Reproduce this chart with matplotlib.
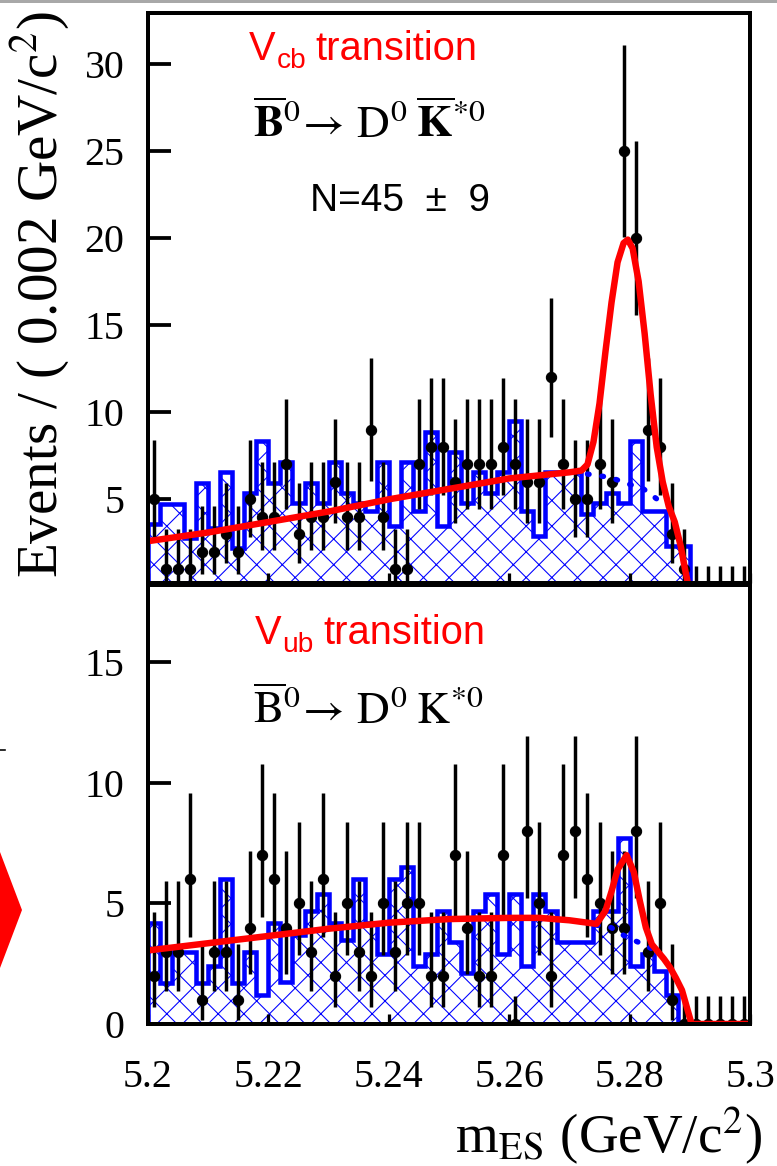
import numpy as np
import matplotlib
matplotlib.use("Agg")
import matplotlib.pyplot as plt
from matplotlib.patches import Polygon, Rectangle
from math import exp, log

# ---------------- data ----------------
x_lo, x_hi, n_bins = 5.2, 5.3, 50

top_counts = [5, 1, 1, 1, 2, 2, 3, 2, 5, 4,
              4, 7, 3, 4, 4, 6, 4, 4, 9, 4,
              1, 1, 7, 8, 8, 6, 7, 7, 7, 8,
              7, 6, 6, 12, 7, 5, 5, 7, 6, 25,
              20, 9, 8, 3, 1, 0, 0, 0, 0, 0]
top_hist = [3.56, 4.75, 4.75, 2.79, 5.96, 3.37, 6.54, 2.21, 5.38, 8.37,
            5.96, 7.12, 4.81, 5.96, 4.81, 7.12, 5.38, 4.81, 4.33, 7.12,
            3.46, 7.12, 4.33, 8.85, 3.46, 7.69, 4.81, 6.54, 5.38, 6.54,
            9.52, 4.33, 2.88, 6.54, 6.54, 6.54, 4.13, 4.81, 5.38, 4.81,
            8.37, 4.33, 4.33, 2.31, 2.31, 0, 0, 0, 0, 0]
top_fit_x = [5.200, 5.210, 5.220, 5.230, 5.240, 5.250, 5.260, 5.2700, 5.2720,
             5.2730, 5.2740, 5.2750, 5.2760, 5.2770, 5.2780, 5.2790, 5.2797,
             5.2805, 5.2815, 5.2825, 5.2835, 5.2845, 5.2855, 5.2865, 5.2875,
             5.2885, 5.2892, 5.2898, 5.300]
top_fit_y = [2.6, 3.1, 3.7, 4.3, 5.0, 5.6, 6.2, 6.55, 6.65,
             7.0, 8.3, 10.5, 13.5, 16.3, 18.6, 19.7, 19.9,
             19.4, 17.5, 14.5, 11.0, 8.0, 6.0, 4.6, 3.7,
             2.3, 1.0, 0.0, 0.0]
top_bkg_x = [5.2730, 5.2769, 5.2792, 5.2823, 5.2846]
top_bkg_y = [6.45, 6.25, 5.95, 5.6, 5.0]

bot_counts = [2, 3, 3, 6, 1, 3, 3, 1, 4, 7,
              6, 4, 5, 3, 6, 2, 5, 3, 2, 5,
              3, 5, 5, 2, 2, 7, 4, 2, 2, 7,
              0, 8, 5, 2, 7, 8, 6, 5, 4, 4,
              8, 3, 5, 1, 0, 0, 0, 0, 0, 0]
bot_hist = [4.2, 1.7, 3.0, 3.0, 1.7, 2.4, 6.0, 1.7, 3.0, 1.2,
            4.2, 1.75, 3.7, 4.7, 5.4, 4.2, 3.5, 6.0, 4.2, 2.9,
            6.0, 6.5, 2.4, 2.9, 4.7, 3.4, 2.1, 4.7, 5.4, 2.9,
            5.4, 2.4, 5.4, 4.7, 3.4, 3.4, 3.4, 4.7, 4.7, 7.7,
            2.4, 2.9, 2.2, 1.2, 0, 0, 0, 0, 0, 0]
bot_fit_x = [5.200, 5.210, 5.220, 5.230, 5.240, 5.250, 5.260, 5.265, 5.270,
             5.2745, 5.276, 5.277, 5.278, 5.2795, 5.2807, 5.2817, 5.2827,
             5.2837, 5.2847, 5.2857, 5.2867, 5.2877, 5.2887, 5.2895, 5.2903,
             5.300]
bot_fit_y = [3.05, 3.35, 3.65, 3.95, 4.2, 4.35, 4.4, 4.4, 4.3,
             4.15, 4.7, 5.5, 6.4, 7.0, 6.3, 5.1, 4.0,
             3.3, 3.0, 2.7, 2.35, 1.9, 1.4, 0.7, 0.0,
             0.0]
bot_bkg_x = [5.2745, 5.2769, 5.2795, 5.2823, 5.2846]
bot_bkg_y = [4.1, 4.0, 3.6, 3.3, 3.0]

x_ticks = [5.2, 5.22, 5.24, 5.26, 5.28, 5.3]
x_tick_labels = ["5.2", "5.22", "5.24", "5.26", "5.28", "5.3"]
top_yticks = [5, 10, 15, 20, 25, 30]
bot_yticks = [0, 5, 10, 15]

# ---------------- helpers ----------------
ALPHA = 0.158655


def pois_cdf(k, mu):
    term = exp(-mu)
    s = term
    for i in range(1, k + 1):
        term *= mu / i
        s += term
    return s


def solve(f, target, lo, hi):
    for _ in range(80):
        mid = 0.5 * (lo + hi)
        if f(mid) > target:
            lo = mid
        else:
            hi = mid
    return 0.5 * (lo + hi)


def pois_interval(n):
    if n == 0:
        return 0.0, -log(2 * ALPHA)
    up = solve(lambda m: pois_cdf(n, m), ALPHA, 0.0, n + 10 * n ** 0.5 + 10)
    dn = solve(lambda m: pois_cdf(n - 1, m), 1 - ALPHA, 0.0, n + 10)
    return dn, up


DPI = 77.7
W, H = 777, 1166
plt.rcParams['font.family'] = ['Liberation Serif', 'DejaVu Serif']
plt.rcParams['hatch.linewidth'] = 1.0
fig = plt.figure(figsize=(W / DPI, H / DPI), dpi=DPI)


def px_axes(l, t, r, b):
    return fig.add_axes([l / W, 1 - b / H, (r - l) / W, (b - t) / H])


edges = np.linspace(x_lo, x_hi, n_bins + 1)
centers = 0.5 * (edges[:-1] + edges[1:])
BLUE = '#0000ff'
RED = '#ff0000'


def draw_panel(ax, counts, hist, fx, fy, bx, by, ylim, yticks):
    ax.stairs(hist, edges, baseline=0, fill=True, facecolor='white',
              edgecolor=BLUE, hatch='x', linewidth=0, zorder=1)
    ax.stairs(hist, edges, baseline=0, fill=False, edgecolor=BLUE,
              linewidth=4.2, zorder=3)
    c = np.array(counts, dtype=float)
    iv = np.array([pois_interval(int(n)) for n in counts])
    ax.errorbar(centers, c, yerr=[c - iv[:, 0], iv[:, 1] - c], fmt='o',
                color='black', ms=9.5, elinewidth=3.2, capsize=0, zorder=4)
    ax.plot(bx, by, color=BLUE, lw=5, ls=(0, (0.3, 2.4)),
            dash_capstyle='round', zorder=4.5)
    ax.plot(fx, fy, color=RED, lw=6, zorder=5, solid_capstyle='butt',
            solid_joinstyle='round')
    ax.set_xlim(x_lo, x_hi)
    ax.set_ylim(*ylim)
    ax.set_yticks(yticks)
    ax.set_xticks(x_ticks)
    for s in ax.spines.values():
        s.set_linewidth(3.7)
        s.set_zorder(10)
    ax.tick_params(axis='y', direction='in', length=21, width=3.5,
                   labelsize=37, pad=22)
    ax.tick_params(axis='x', direction='in', length=9, width=3.0,
                   labelsize=37, pad=32)


ax1 = px_axes(148, 13, 750, 583)
ax2 = px_axes(148, 585, 750, 1024)

draw_panel(ax1, top_counts, top_hist, top_fit_x, top_fit_y,
           top_bkg_x, top_bkg_y, (0.2, 32.9), top_yticks)
draw_panel(ax2, bot_counts, bot_hist, bot_fit_x, bot_fit_y,
           bot_bkg_x, bot_bkg_y, (0.0, 18.2), bot_yticks)
ax1.set_xticklabels([])
ax2.set_xticklabels(x_tick_labels)

SANS = ['Liberation Sans', 'DejaVu Sans']


def vlabel(ax, x, y, sub):
    t1 = ax.text(x, y, "V", transform=ax.transAxes, color=RED, fontsize=37,
                 family=SANS, va='baseline', ha='left')
    t2 = ax.annotate(sub, xy=(1, 0), xycoords=t1, xytext=(0.5, 0),
                     textcoords='offset points', color=RED, fontsize=26,
                     family=SANS, va='baseline', ha='left')
    ax.annotate("transition", xy=(1, 0), xycoords=(t2, t1), xytext=(9, 0),
                textcoords='offset points', color=RED, fontsize=37,
                family=SANS, va='bottom', ha='left')


vlabel(ax1, 0.168, 0.918, "cb")
vlabel(ax2, 0.178, 0.866, "ub")

ax1.text(0.174, 0.781,
         r"$\overline{\mathbf{B}}^{0}\!\rightarrow\,\mathrm{D}^{0}\;\overline{\mathbf{K}}^{*0}$",
         transform=ax1.transAxes, fontsize=42, math_fontfamily='stix',
         va='baseline', ha='left')
ax2.text(0.174, 0.684,
         r"$\overline{\mathrm{B}}^{0}\!\rightarrow\,\mathrm{D}^{0}\;\mathrm{K}^{*0}$",
         transform=ax2.transAxes, fontsize=42, math_fontfamily='stix',
         va='baseline', ha='left')
ax1.text(0.269, 0.653, "N=45  \u00b1  9", transform=ax1.transAxes,
         fontsize=36, family=SANS, va='baseline', ha='left')

fig.text(40 / W, 1 - 295 / H, r"Events / ( 0.002 GeV/c$^{2}$)",
         rotation=90, fontsize=53, ha='center', va='center',
         math_fontfamily='stix')
fig.text(762 / W, 1 - 1153 / H, r"m$_{\mathrm{ES}}$ (GeV/c$^{2}$)",
         fontsize=51, ha='right', va='baseline', math_fontfamily='stix')

# slide artefacts around the picture
fig.add_artist(Rectangle((0, 1 - 3 / H), 1, 3 / H, transform=fig.transFigure,
                         color='#a8a8a8', lw=0))
fig.add_artist(Polygon([(0, 1 - 852 / H), (22 / W, 1 - 910 / H), (0, 1 - 968 / H)],
                       closed=True, transform=fig.transFigure, color=RED, lw=0))
fig.add_artist(plt.Line2D([0, 5 / W], [1 - 750 / H, 1 - 750 / H],
                          transform=fig.transFigure, color='black', lw=1.5))

fig.savefig("out.png", dpi=DPI)
